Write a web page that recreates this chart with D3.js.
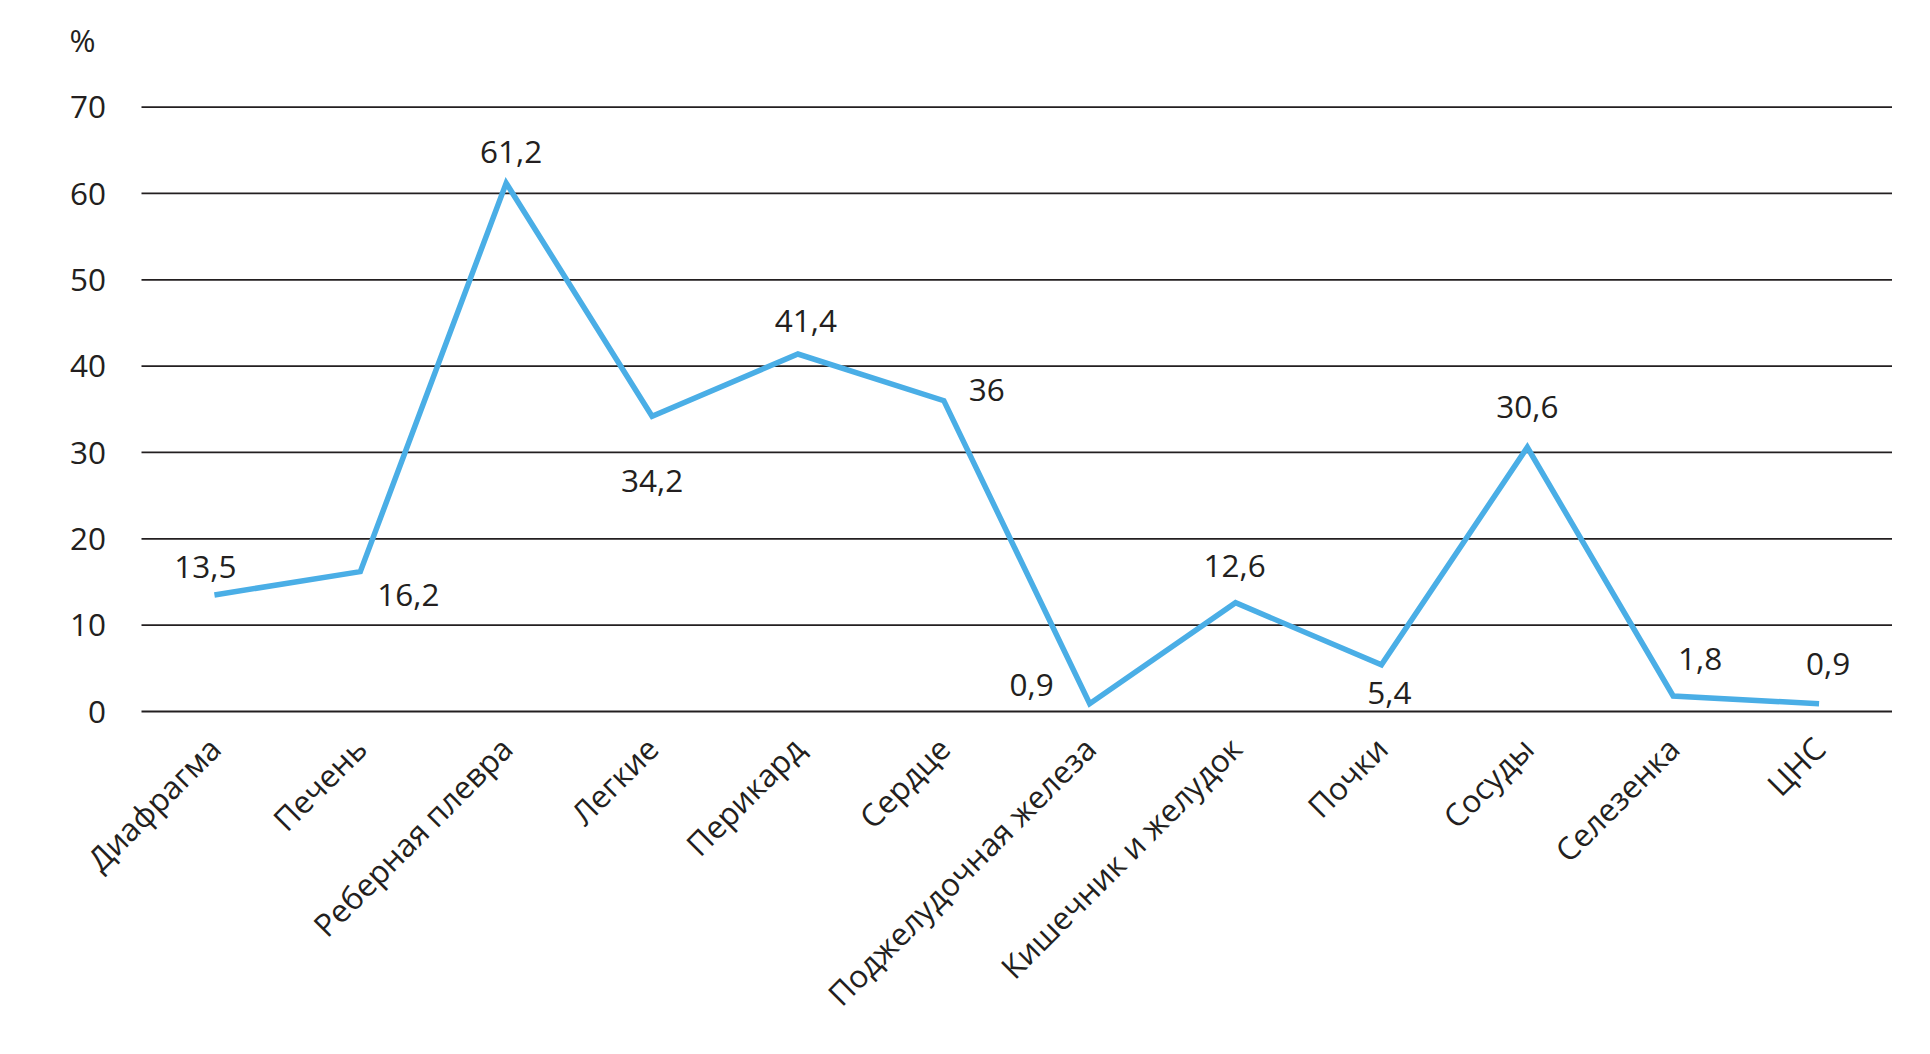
<!DOCTYPE html>
<html><head><meta charset="utf-8">
<script src="https://cdn.jsdelivr.net/npm/d3@7"></script>
<style>
html,body{margin:0;padding:0;background:#fff;}
text{font-family:"Open Sans","Noto Sans",sans-serif;fill:#231f20;}
</style></head>
<body><svg id="chart" width="1930" height="1054"></svg>
<script>
const categories = ["Диафрагма","Печень","Реберная плевра","Легкие","Перикард","Сердце","Поджелудочная железа","Кишечник и желудок","Почки","Сосуды","Селезенка","ЦНС"];
const values = [13.5,16.2,61.2,34.2,41.4,36,0.9,12.6,5.4,30.6,1.8,0.9];
const valueLabels = ["13,5","16,2","61,2","34,2","41,4","36","0,9","12,6","5,4","30,6","1,8","0,9"];
const yTicks = [0,10,20,30,40,50,60,70];
const yUnit = "%";

(function(){
// label offsets (layout only)
const labelOffsets = [[-9,-17],[48,34],[5,-20],[0,76],[8,-22],[43,0],[-58,-8],[-1,-26],[8,39],[0,-29],[27,-26],[9,-29]];

const svg = d3.select("#chart");
const pLeft = 141.5, pRight = 1892, pTop = 107.1, pBottom = 711.5;
const x = d3.scaleBand().domain(categories).range([pLeft, pRight]).padding(0);
const y = d3.scaleLinear().domain([0,70]).range([pBottom, pTop]);
const fs = 31.5;

svg.append("g").selectAll("line").data(yTicks).join("line")
  .attr("x1", pLeft).attr("x2", pRight)
  .attr("y1", d => y(d)).attr("y2", d => y(d))
  .attr("stroke", "#231f20").attr("stroke-width", 1.8);

svg.append("g").selectAll("text").data(yTicks).join("text")
  .attr("x", 106).attr("y", d => y(d)).attr("dy", "0.36em")
  .attr("text-anchor", "end").attr("font-size", fs)
  .text(d => d);

svg.append("text").attr("x", 82.5).attr("y", 51.5).attr("text-anchor","middle")
  .attr("font-size", fs).text(yUnit);

const cx = d => x(d) + x.bandwidth()/2;
svg.append("g").selectAll("text").data(categories).join("text")
  .attr("transform", d => `translate(${cx(d)+1},${pBottom+32}) rotate(-45)`)
  .attr("text-anchor","end").attr("dy","0.35em").attr("font-size", fs)
  .text(d => d);

const line = d3.line().x((d,i) => cx(categories[i])).y(d => y(d));
svg.append("path").datum(values).attr("d", line)
  .attr("fill","none").attr("stroke","#4aaee6").attr("stroke-width",5.5)
  .attr("stroke-linejoin","miter").attr("stroke-linecap","butt");

svg.append("g").selectAll("text").data(values).join("text")
  .attr("x", (d,i) => cx(categories[i]) + labelOffsets[i][0])
  .attr("y", (d,i) => y(d) + labelOffsets[i][1])
  .attr("text-anchor","middle").attr("font-size", fs)
  .text((d,i) => valueLabels[i]);
})();
</script></body></html>
